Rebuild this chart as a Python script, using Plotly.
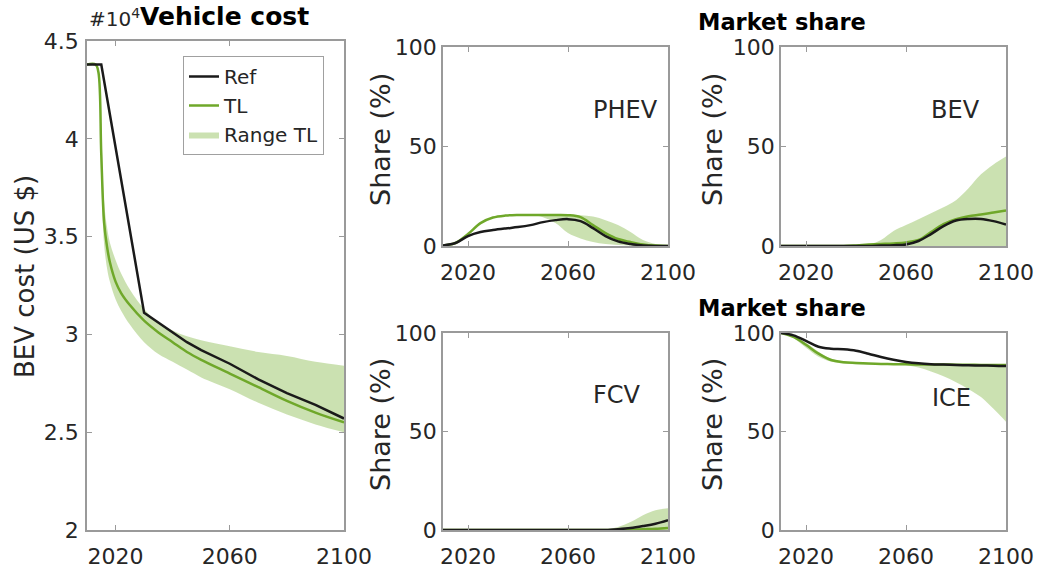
import plotly.graph_objects as go

W, H = 1042, 570

# ---------------- data ----------------
# Vehicle cost (x 10^4 US$)
cost_ref_years = [2010, 2015, 2030, 2035, 2040, 2045, 2050, 2060, 2070, 2080, 2090, 2100]
cost_ref = [4.38, 4.38, 3.11, 3.06, 3.01, 2.96, 2.92, 2.85, 2.77, 2.70, 2.64, 2.57]

cost_tl_years = [2010, 2013, 2014, 2015, 2016, 2017, 2018, 2020, 2022, 2025, 2030,
                 2035, 2040, 2045, 2050, 2060, 2070, 2080, 2090, 2100]
cost_tl = [4.38, 4.38, 4.34, 3.92, 3.57, 3.45, 3.37, 3.27, 3.21, 3.15, 3.07,
           3.01, 2.96, 2.91, 2.87, 2.80, 2.73, 2.66, 2.60, 2.55]
cost_tl_hi = [4.38, 4.38, 4.36, 4.05, 3.68, 3.55, 3.47, 3.38, 3.31, 3.23, 3.13,
              3.06, 3.02, 2.99, 2.97, 2.94, 2.91, 2.89, 2.86, 2.84]
cost_tl_lo = [4.38, 4.38, 4.32, 3.80, 3.46, 3.34, 3.27, 3.18, 3.12, 3.05, 2.96,
              2.90, 2.86, 2.82, 2.78, 2.72, 2.65, 2.59, 2.54, 2.50]

# Market shares (%)
share_years = [2010, 2015, 2020, 2025, 2030, 2035, 2040, 2045, 2050, 2055,
               2060, 2065, 2070, 2075, 2080, 2085, 2090, 2095, 2100]

phev_ref = [0.3, 1.5, 5.0, 7.0, 8.0, 8.8, 9.5, 10.5, 12.0, 13.0, 13.5, 12.5, 9.0, 5.0, 2.3, 1.0, 0.3, 0, 0]
phev_tl = [0.3, 1.5, 6.0, 11.5, 14.3, 15.3, 15.6, 15.6, 15.6, 15.6, 15.5, 14.5, 10.5, 6.5, 3.5, 2.0, 0.8, 0.2, 0]
phev_lo = [0.3, 1.5, 6.0, 11.5, 14.3, 15.3, 15.6, 15.6, 14.5, 11.5, 6.5, 3.8, 2.0, 1.0, 0.5, 0.2, 0, 0, 0]
phev_hi = [0.3, 1.5, 6.0, 11.5, 14.3, 15.3, 15.6, 15.6, 15.6, 15.6, 15.6, 15.4, 14.8, 13.0, 10.5, 7.0, 3.0, 1.0, 0.2]

bev_ref = [0, 0, 0, 0, 0, 0, 0, 0, 0.2, 0.4, 0.8, 2.5, 6.0, 10.0, 12.8, 13.6, 13.6, 12.5, 10.8]
bev_tl = [0, 0, 0, 0, 0, 0, 0.3, 0.7, 1.0, 1.3, 1.8, 3.0, 7.0, 11.0, 13.5, 15.0, 15.8, 16.8, 17.8]
bev_lo = [0] * 19
bev_hi = [0, 0, 0, 0, 0, 0, 0.3, 0.8, 3.0, 7.5, 10.5, 13.5, 16.5, 19.5, 23.0, 29.0, 36.0, 41.0, 45.0]

fcv_ref = [0, 0, 0, 0, 0, 0, 0, 0, 0, 0, 0, 0, 0, 0, 0.4, 1.0, 2.0, 3.2, 5.0]
fcv_tl = [0, 0, 0, 0, 0, 0, 0, 0, 0, 0, 0, 0, 0, 0, 0, 0.2, 0.4, 0.6, 1.0]
fcv_lo = [0] * 19
fcv_hi = [0, 0, 0, 0, 0, 0, 0, 0, 0, 0, 0, 0, 0, 0.3, 1.5, 4.0, 7.5, 10.0, 11.0]

ice_ref = [100, 98.8, 96, 93, 92, 91.7, 91, 89.5, 87.8, 86.4, 85.3, 84.6, 84.2, 84.0, 83.8, 83.6, 83.5, 83.4, 83.2]
ice_tl = [100, 98, 94, 89.5, 86.3, 85.2, 84.8, 84.5, 84.3, 84.2, 84.1, 84.0, 84.0, 84.0, 83.9, 83.9, 83.8, 83.8, 83.8]
ice_lo = [100, 97.5, 92.5, 88, 85.5, 84.5, 84.2, 84.0, 84.0, 83.9, 83.6, 82.5, 80.5, 78, 75, 71.5, 67.5, 61.5, 55]
ice_hi = [100, 98.5, 95, 90.5, 87, 85.6, 85.1, 84.8, 84.6, 84.5, 84.4, 84.3, 84.3, 84.3, 84.2, 84.2, 84.1, 84.1, 84.1]

x_ticks = [2020, 2060, 2100]
x_tick_labels = ["2020", "2060", "2100"]
cost_ticks = [2, 2.5, 3, 3.5, 4, 4.5]
cost_tick_labels = ["2", "2.5", "3", "3.5", "4", "4.5"]
share_ticks = [0, 50, 100]
share_tick_labels = ["0", "50", "100"]

panel_names = ["PHEV", "BEV", "FCV", "ICE"]

# ---------------- style ----------------
BLACK = "#1a1a1a"
GREEN = "#6fa82a"
FILL = "rgba(126,180,60,0.40)"
TXT = "#262626"
AX = "#9a9a9a"
FONT = "DejaVu Sans"


def px(x):
    return x / W


def py(y):
    return 1 - y / H


fig = go.Figure()


def add_panel(idx, years_ref, ref, years_tl, tl, lo, hi, shape, show_legend):
    xa = "x" if idx == 1 else f"x{idx}"
    ya = "y" if idx == 1 else f"y{idx}"
    fig.add_trace(go.Scatter(x=years_tl, y=lo, mode="lines", line=dict(width=0, shape=shape),
                             hoverinfo="skip", showlegend=False, xaxis=xa, yaxis=ya))
    fig.add_trace(go.Scatter(x=years_tl, y=hi, mode="lines", line=dict(width=0, shape=shape),
                             fill="tonexty", fillcolor=FILL, name="Range TL", legendrank=3,
                             showlegend=show_legend, xaxis=xa, yaxis=ya))
    fig.add_trace(go.Scatter(x=years_tl, y=tl, mode="lines", line=dict(color=GREEN, width=2.5, shape=shape),
                             name="TL", legendrank=2, showlegend=show_legend, xaxis=xa, yaxis=ya))
    fig.add_trace(go.Scatter(x=years_ref, y=ref, mode="lines",
                             line=dict(color=BLACK, width=2.5, shape="linear" if idx == 1 else shape),
                             name="Ref", legendrank=1, showlegend=show_legend, xaxis=xa, yaxis=ya))


add_panel(1, cost_ref_years, cost_ref, cost_tl_years, cost_tl, cost_tl_lo, cost_tl_hi, "spline", True)
add_panel(2, share_years, phev_ref, share_years, phev_tl, phev_lo, phev_hi, "spline", False)
add_panel(3, share_years, bev_ref, share_years, bev_tl, bev_lo, bev_hi, "spline", False)
add_panel(4, share_years, fcv_ref, share_years, fcv_tl, fcv_lo, fcv_hi, "spline", False)
add_panel(5, share_years, ice_ref, share_years, ice_tl, ice_lo, ice_hi, "spline", False)

axis_common = dict(showline=True, linecolor=AX, linewidth=1.5, mirror="ticks", ticks="inside",
                   ticklen=5, tickcolor=AX, tickwidth=1.2, showgrid=False, zeroline=False,
                   automargin=False,
                   tickfont=dict(family=FONT, size=22, color=TXT))

# pixel boxes: (left, right, top, bottom)
boxes = {
    1: (87, 344, 41, 530),
    2: (443, 668, 47, 246),
    3: (781, 1006, 47, 246),
    4: (443, 668, 333, 530),
    5: (781, 1006, 333, 530),
}

layout = dict(width=W, height=H, margin=dict(l=0, r=0, t=0, b=0, pad=0, autoexpand=False),
              paper_bgcolor="white", plot_bgcolor="white",
              font=dict(family=FONT, color=TXT))
for i, (l, r, t, b) in boxes.items():
    xk = "xaxis" if i == 1 else f"xaxis{i}"
    yk = "yaxis" if i == 1 else f"yaxis{i}"
    ya = "y" if i == 1 else f"y{i}"
    xa = "x" if i == 1 else f"x{i}"
    layout[xk] = dict(axis_common, domain=[px(l), px(r)], range=[2010, 2100], anchor=ya,
                      tickvals=x_ticks, ticktext=x_tick_labels, ticklabelstandoff=6)
    if i == 1:
        layout[yk] = dict(axis_common, domain=[py(b), py(t)], range=[2, 4.5], anchor=xa,
                          tickvals=cost_ticks, ticktext=cost_tick_labels, ticklabelstandoff=2)
    else:
        layout[yk] = dict(axis_common, domain=[py(b), py(t)], range=[0, 100], anchor=xa,
                          tickvals=share_ticks, ticktext=share_tick_labels, ticklabelstandoff=0)

layout["legend"] = dict(x=px(183), y=py(56), xanchor="left", yanchor="top",
                        bgcolor="white", bordercolor="#a0a0a0", borderwidth=1,
                        font=dict(family=FONT, size=20, color=TXT), tracegroupgap=0,
                        traceorder="normal", itemwidth=30)
fig.update_layout(**layout)

ann = []


def text(x, y, s, size, bold=False, angle=0):
    ann.append(dict(x=px(x), y=py(y), xref="paper", yref="paper", text=f"<b>{s}</b>" if bold else s,
                    showarrow=False, textangle=angle, xanchor="center", yanchor="middle",
                    font=dict(family=FONT, size=size, color="black" if bold else TXT)))


# exponent label
ann.append(dict(x=px(87), y=py(18), xref="paper", yref="paper", text="#10<sup>4</sup>",
                showarrow=False, xanchor="left", yanchor="middle",
                font=dict(family=FONT, size=20, color=TXT)))
text(224, 17, "Vehicle cost", 25, bold=True)
text(782, 22, "Market share", 22.5, bold=True)
text(782, 308, "Market share", 22.5, bold=True)
text(25, 277, "BEV cost (US $)", 26, angle=-90)
text(380, 140, "Share (%)", 27, angle=-90)
text(712, 140, "Share (%)", 27, angle=-90)
text(380, 425, "Share (%)", 27, angle=-90)
text(712, 425, "Share (%)", 27, angle=-90)
text(625, 110, panel_names[0], 24)
text(955, 110, panel_names[1], 24)
text(617, 395, panel_names[2], 24)
text(951, 398, panel_names[3], 24)
fig.update_layout(annotations=ann)

fig.write_html("out.html")
